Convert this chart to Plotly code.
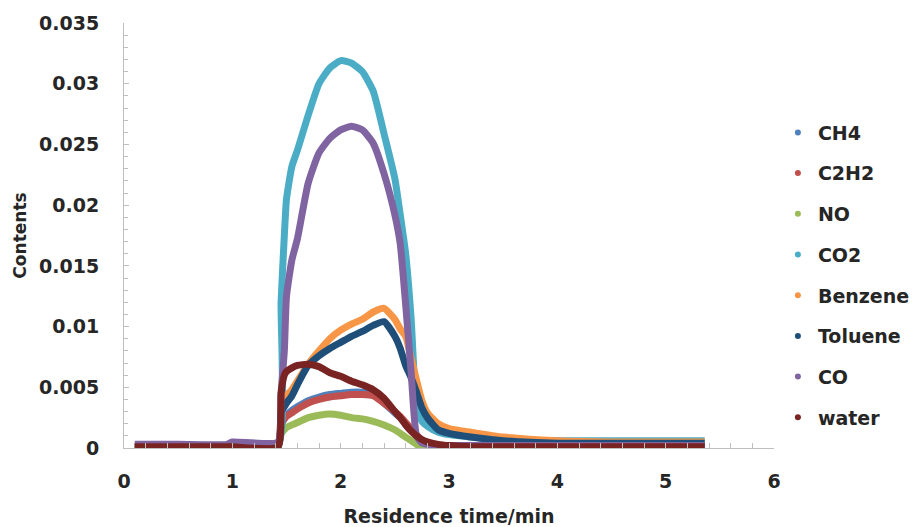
import plotly.graph_objects as go

time_min = [0.1, 0.5, 0.95, 1.0, 1.42, 1.45, 1.48, 1.5, 1.55, 1.6, 1.7, 1.8, 1.9, 2.0, 2.1, 2.2, 2.3,
            2.4, 2.5, 2.55, 2.6, 2.65, 2.7, 2.75, 2.8, 2.9, 3.0, 3.2, 3.5, 4.0, 4.5, 5.0, 5.36]

ch4 = [0.0001, 0.0001, 0.0001, 0.0001, 0.0001, 0.0019, 0.0024, 0.0027, 0.0031, 0.0034, 0.0039, 0.0042,
       0.0044, 0.0045, 0.0046, 0.0046, 0.0045, 0.0037, 0.0029, 0.0025, 0.0020, 0.0015, 0.0010, 0.0005,
       0.0002, 0.0001, 0.0001, 0.0001, 0.0001, 0.0001, 0.0001, 0.0001, 0.0001]
c2h2 = [0.0001, 0.0001, 0.0001, 0.0001, 0.0001, 0.0020, 0.0024, 0.0026, 0.0029, 0.0032, 0.0037, 0.0040,
        0.0042, 0.0043, 0.0044, 0.0044, 0.0043, 0.0037, 0.0030, 0.0026, 0.0021, 0.0016, 0.0011, 0.0006,
        0.0003, 0.0001, 0.0001, 0.0001, 0.0001, 0.0001, 0.0001, 0.0001, 0.0001]
no = [0.0001, 0.0001, 0.0001, 0.0001, 0.0001, 0.0012, 0.0015, 0.0017, 0.0019, 0.0021, 0.0025, 0.0027,
      0.0028, 0.0027, 0.0025, 0.0024, 0.0022, 0.0019, 0.0015, 0.0012, 0.0009, 0.0006, 0.0003, 0.0001,
      0.0, 0.0, 0.0, 0.0, 0.0, 0.0, 0.0, 0.0, 0.0]
co2 = [0.0001, 0.0001, 0.0001, 0.0001, 0.0001, 0.0120, 0.0175, 0.0205, 0.0232, 0.0245, 0.0274, 0.0300,
       0.0313, 0.0319, 0.0317, 0.0310, 0.0294, 0.0259, 0.0222, 0.0192, 0.0160, 0.0107, 0.0035, 0.0022,
       0.0018, 0.0013, 0.0011, 0.0009, 0.0007, 0.0006, 0.0006, 0.0006, 0.0006]
benzene = [0.0001, 0.0001, 0.0001, 0.0001, 0.0001, 0.0036, 0.0040, 0.0043, 0.0048, 0.0055, 0.0069, 0.0080,
           0.0090, 0.0097, 0.0102, 0.0106, 0.0112, 0.0115, 0.0106, 0.0098, 0.0092, 0.0074, 0.0056, 0.0039,
           0.0029, 0.0020, 0.0016, 0.0013, 0.0009, 0.0006, 0.0005, 0.0005, 0.0005]
toluene = [0.0001, 0.0001, 0.0001, 0.0001, 0.0001, 0.0030, 0.0034, 0.0037, 0.0043, 0.0052, 0.0068, 0.0076,
           0.0082, 0.0087, 0.0092, 0.0096, 0.0101, 0.0104, 0.0092, 0.0082, 0.0068, 0.0058, 0.0046, 0.0033,
           0.0025, 0.0015, 0.0012, 0.0009, 0.0006, 0.0004, 0.0004, 0.0004, 0.0004]
co = [0.0003, 0.0003, 0.0003, 0.0005, 0.0005, 0.0045, 0.0080, 0.0125, 0.0155, 0.0172, 0.0218, 0.0243,
      0.0255, 0.0262, 0.0265, 0.0262, 0.0251, 0.0226, 0.0192, 0.0168, 0.0118, 0.0063, 0.0010, 0.0004,
      0.0003, 0.0002, 0.0002, 0.0002, 0.0002, 0.0002, 0.0002, 0.0002, 0.0002]
water = [0.0001, 0.0001, 0.0001, 0.0001, 0.0001, 0.0045, 0.0060, 0.0063, 0.0066, 0.0068, 0.0069, 0.0067,
         0.0062, 0.0059, 0.0055, 0.0052, 0.0048, 0.0041, 0.0030, 0.0025, 0.0019, 0.0014, 0.0010, 0.0007,
         0.0005, 0.0003, 0.0002, 0.0001, 0.0001, 0.0001, 0.0001, 0.0001, 0.0001]

series_names = ["CH4", "C2H2", "NO", "CO2", "Benzene", "Toluene", "CO", "water"]
series_values = [ch4, c2h2, no, co2, benzene, toluene, co, water]
series_colors = ["#4F81BD", "#C0504D", "#9BBB59", "#4BACC6", "#F79646", "#1F4E79", "#8064A2", "#7A2323"]

x_ticks = [0, 1, 2, 3, 4, 5, 6]
y_ticks = [0, 0.005, 0.01, 0.015, 0.02, 0.025, 0.03, 0.035]
y_tick_labels = ["0", "0.005", "0.01", "0.015", "0.02", "0.025", "0.03", "0.035"]

fig = go.Figure()
for name, vals, col in zip(series_names, series_values, series_colors):
    fig.add_trace(go.Scatter(x=time_min, y=vals, mode="lines", name=name,
                             line=dict(color=col, width=7, shape="spline", smoothing=0.5),
                             showlegend=False, legendgroup=name))
for name, col in zip(series_names, series_colors):
    fig.add_trace(go.Scatter(x=[None], y=[None], mode="markers", name=name, legendgroup=name,
                             marker=dict(color=col, size=6)))

FAM = "DejaVu Sans"
TXT = "#262626"
fig.update_layout(
    width=920, height=527,
    margin=dict(l=124, r=146, t=23, b=79, autoexpand=False),
    paper_bgcolor="white", plot_bgcolor="white",
    font=dict(family=FAM, size=18, color=TXT, weight="bold"),
    legend=dict(x=1.006, xanchor="left", y=0.787, yanchor="top", tracegroupgap=13,
                font=dict(family=FAM, size=19, color=TXT, weight="bold"),
                itemwidth=30, bgcolor="rgba(0,0,0,0)"),
    xaxis=dict(range=[0, 6], tickvals=x_ticks, showgrid=False, zeroline=False,
               showline=True, linecolor="#BFBFBF", linewidth=1, automargin=False,
               ticks="inside", ticklen=5, tickcolor="#BFBFBF",
               minor=dict(dtick=0.2, ticks="inside", ticklen=5, tickcolor="#BFBFBF"),
               ticklabelstandoff=16,
               tickfont=dict(family=FAM, size=19, color=TXT, weight="bold"),
               title=dict(text="Residence time/min", standoff=20,
                          font=dict(family=FAM, size=19, color=TXT, weight="bold"))),
    yaxis=dict(range=[0, 0.035], tickvals=y_ticks, ticktext=y_tick_labels, showgrid=False,
               zeroline=False, showline=True, linecolor="#BFBFBF", linewidth=1, automargin=False,
               ticks="inside", ticklen=5, tickcolor="#BFBFBF",
               minor=dict(dtick=0.001, ticks="inside", ticklen=4, tickcolor="#BFBFBF"),
               ticklabelstandoff=20,
               tickfont=dict(family=FAM, size=19, color=TXT, weight="bold"),
               title=dict(text="Contents", standoff=8,
                          font=dict(family=FAM, size=17, color=TXT, weight="bold"))),
)

fig.write_html("out.html")
